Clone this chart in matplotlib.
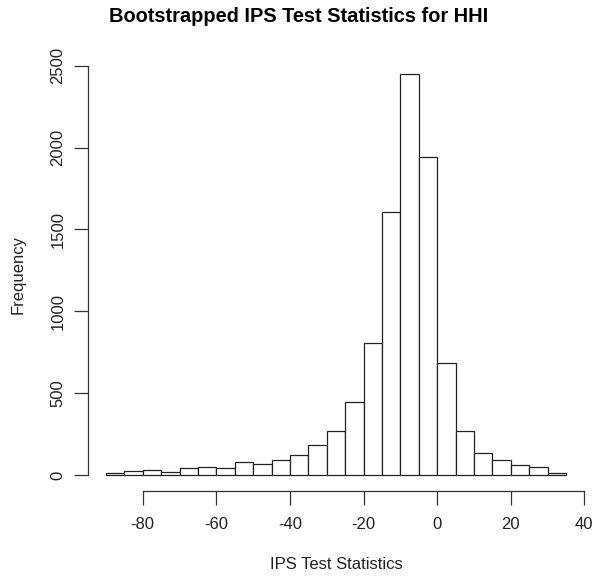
import numpy as np
import matplotlib
matplotlib.use("Agg")
import matplotlib.pyplot as plt

plt.rcParams['font.family'] = ['Liberation Sans', 'DejaVu Sans']
plt.rcParams['axes.unicode_minus'] = False

# histogram bins (width 5) and counts
bin_edges = [-90, -85, -80, -75, -70, -65, -60, -55, -50, -45, -40, -35, -30,
             -25, -20, -15, -10, -5, 0, 5, 10, 15, 20, 25, 30, 35]
counts = [12, 22, 28, 20, 41, 49, 41, 77, 69, 90, 124, 181, 271,
          444, 805, 1607, 2452, 1944, 686, 267, 132, 90, 63, 51, 12]
x_ticks = [-80, -60, -40, -20, 0, 20, 40]
y_ticks = [0, 500, 1000, 1500, 2000, 2500]

fig = plt.figure(figsize=(5.97, 5.8), dpi=100)
ax = fig.add_axes([0.1466, 0.1534, 0.8322, 0.7467])

edges = np.array(bin_edges)
ax.bar(edges[:-1], counts, width=np.diff(edges), align='edge',
       facecolor='white', edgecolor='#222222', linewidth=0.9)

ax.set_xlim(-95, 40)
ax.set_ylim(-98, 2548)

for side in ['top', 'right']:
    ax.spines[side].set_visible(False)
ax.spines['left'].set_bounds(0, 2500)
ax.spines['bottom'].set_bounds(-80, 40)
for side in ['left', 'bottom']:
    ax.spines[side].set_color('#333333')
    ax.spines[side].set_linewidth(0.9)

ax.set_xticks(x_ticks)
ax.set_yticks(y_ticks)
ax.tick_params(axis='both', length=10, width=0.9, color='#333333',
               labelsize=12, labelcolor='#222222')
ax.tick_params(axis='x', pad=9)
ax.tick_params(axis='y', pad=6)
plt.setp(ax.get_yticklabels(), rotation=90, va='center')

ax.set_xlabel('IPS Test Statistics', fontsize=12, color='#222222', labelpad=18)
ax.set_ylabel('Frequency', fontsize=12, color='#222222', labelpad=18)
fig.suptitle('Bootstrapped IPS Test Statistics for HHI', fontsize=14.4,
             fontweight='bold', y=0.988)

fig.savefig('out.png', dpi=100)
